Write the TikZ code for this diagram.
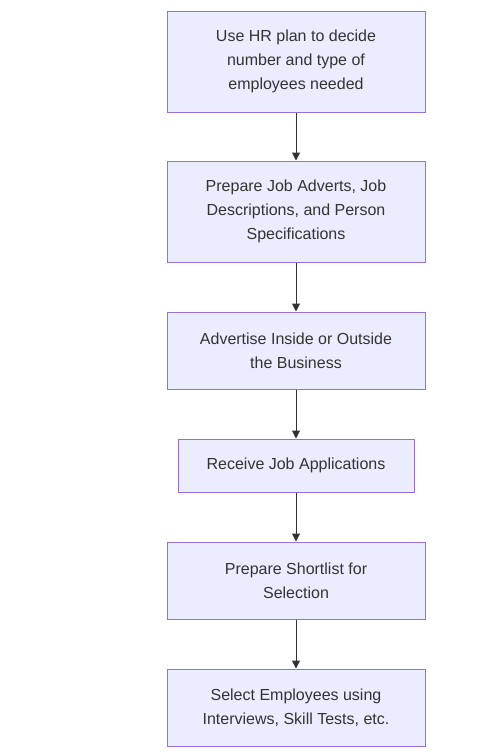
\documentclass[tikz,border=0pt]{standalone}
\usepackage{fontspec}
\setmainfont{Liberation Sans}
\usetikzlibrary{arrows.meta}
\definecolor{boxfill}{HTML}{ECECFF}
\definecolor{boxline}{HTML}{9370DB}
\definecolor{txt}{HTML}{333333}
\begin{document}
\begin{tikzpicture}[x=1pt,y=-1pt,
  flowbox/.style={draw=boxline, fill=boxfill, line width=1pt, text=txt,
    font=\fontsize{16}{23.7}\selectfont, align=center, inner sep=0pt,
    minimum width=258pt},
  flowarrow/.style={draw=txt, line width=1pt, -{Triangle[length=8pt,width=8pt]}}]
\useasboundingbox (0,0) rectangle (503,756);
\node[flowbox, minimum height=101pt] (n1) at (296,61.5) {Use HR plan to decide\\number and type of\\employees needed};
\node[flowbox, minimum height=101pt] (n2) at (296,211.5) {Prepare Job Adverts, Job\\Descriptions, and Person\\Specifications};
\node[flowbox, minimum height=77pt] (n3) at (296,350.5) {Advertise Inside or Outside\\the Business};
\node[flowbox, minimum height=53pt, minimum width=236pt] (n4) at (296,465.5) {Receive Job Applications};
\node[flowbox, minimum height=77pt] (n5) at (296,580.5) {Prepare Shortlist for\\Selection};
\node[flowbox, minimum height=77pt] (n6) at (296,707.5) {Select Employees using\\Interviews, Skill Tests, etc.};
\draw[flowarrow] (n1) -- (n2);
\draw[flowarrow] (n2) -- (n3);
\draw[flowarrow] (n3) -- (n4);
\draw[flowarrow] (n4) -- (n5);
\draw[flowarrow] (n5) -- (n6);
\end{tikzpicture}
\end{document}
